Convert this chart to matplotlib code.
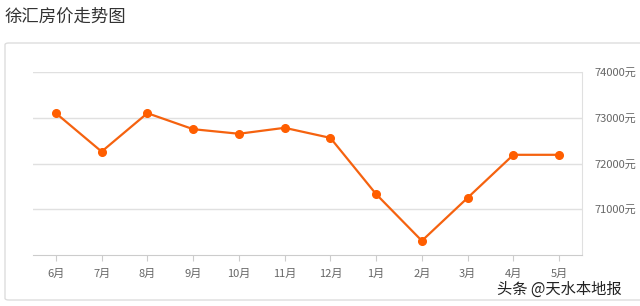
import matplotlib.pyplot as plt
from matplotlib.patches import FancyBboxPatch

plt.rcParams['font.family'] = ['Noto Sans CJK SC', 'DejaVu Sans']

# monthly prices, yuan per square metre
months = ['6月', '7月', '8月', '9月', '10月', '11月', '12月', '1月', '2月', '3月', '4月', '5月']
prices = [73100, 72260, 73100, 72750, 72650, 72780, 72560, 71330, 70310, 71250, 72190, 72190]
y_ticks = [71000, 72000, 73000, 74000]

fig = plt.figure(figsize=(6.4, 3.06), dpi=100)

# card behind the chart
card = FancyBboxPatch((5 / 640, 1 - 300 / 306), 640 / 640, (300 - 43) / 306,
                      boxstyle='round,pad=0,rounding_size=0.006',
                      transform=fig.transFigure, facecolor='white',
                      edgecolor='#dddddd', linewidth=1.0, zorder=0)
fig.patches.append(card)

fig.text(5 / 640, 1 - 17 / 306, '徐汇房价走势图', fontsize=12.5, color='#333333',
         va='center', ha='left')

ax = fig.add_axes([33 / 640, 1 - 255 / 306, (582 - 33) / 640, (255 - 72) / 306])
ax.set_zorder(2)
ax.set_facecolor('none')

x = list(range(len(months)))
ax.plot(x, prices, color='#f5620f', linewidth=1.6, marker='o', markersize=5.5,
        markerfacecolor='#ff5e00', markeredgecolor='#ff5e00', zorder=3)

ax.set_xlim(-0.5, len(months) - 0.5)
ax.set_ylim(70000, 74000)
ax.set_xticks(x)
ax.set_xticklabels(months, fontsize=8, color='#666666')
ax.set_yticks(y_ticks)
ax.set_yticklabels([f'{v}元' for v in y_ticks], fontsize=8, color='#666666')
ax.yaxis.tick_right()
ax.tick_params(axis='y', length=0, pad=9)
ax.tick_params(axis='x', length=4, color='#cccccc', pad=6)

ax.grid(axis='y', color='#e0e0e0', linewidth=1.0)
for side in ['top', 'left']:
    ax.spines[side].set_visible(False)
ax.spines['right'].set_color('#e0e0e0')
ax.spines['bottom'].set_color('#cccccc')

fig.text(497 / 640, 1 - 289 / 306, '头条 @天水本地报', fontsize=11, color='#222222',
         va='center', ha='left')

fig.savefig('out.png', dpi=100)
